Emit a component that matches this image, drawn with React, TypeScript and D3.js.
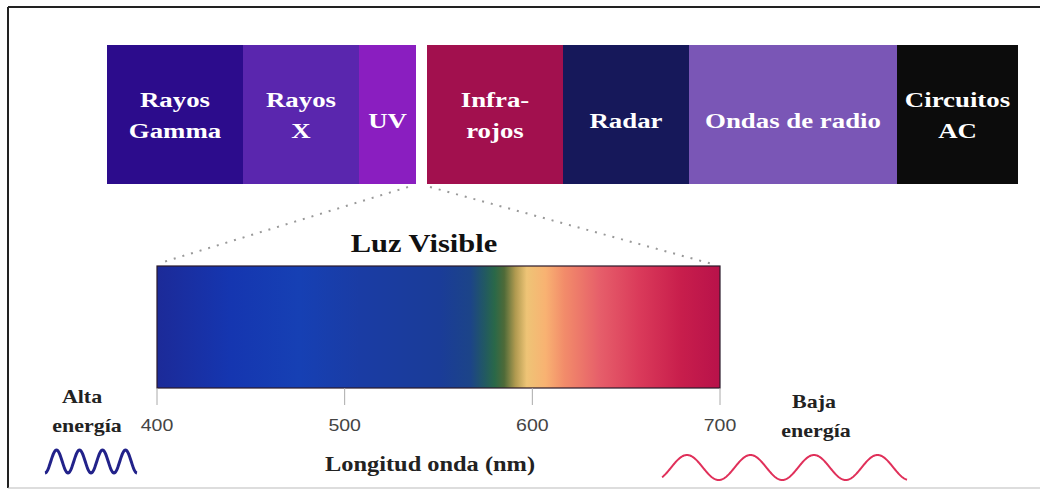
import React from "react";
import * as d3 from "d3";

// Electromagnetic bands (top bar), left to right
const bandLines: string[][] = [
  ["Rayos", "Gamma"],
  ["Rayos", "X"],
  ["UV"],
  [],
  ["Infra-", "rojos"],
  ["Radar"],
  ["Ondas de radio"],
  ["Circuitos", "AC"],
];
const bandSpans = [136, 116, 57, 11, 136, 126, 208, 121];
const bandColors = ["#2c0c8c", "#5a26ae", "#8a1ec0", "#ffffff", "#a2104e", "#16185a", "#7a56b6", "#0c0c0c"];

// Visible light axis
const tickValues = [400, 500, 600, 700];
const spectrumNm = [400, 439, 476, 508, 551, 567, 575, 580, 585, 591, 597, 607, 617, 636, 657, 679, 700];
const spectrumColors = [
  "#1c2a98", "#1536b0", "#1640b4", "#1a3ca4", "#1a3c98", "#1c4488", "#225a60", "#2a6848",
  "#4e6a38", "#b09a50", "#eec476", "#f8b272", "#f28c6a", "#e65e6a", "#da3a5a", "#c81e4c", "#b8124a",
];

const W = 1040;
const H = 492;
const SX = 1.22; // horizontal text stretch of the original
const serif = "'Liberation Serif', 'Times New Roman', serif";
const sans = "'Liberation Sans', Arial, sans-serif";

export default function App() {
  const total = d3.sum(bandSpans);
  const bx = d3.scaleLinear().domain([0, total]).range([107, 1018]);
  const cum = d3.cumsum(bandSpans);
  const starts = bandSpans.map((s, i) => cum[i] - s);

  const x = d3.scaleLinear().domain([400, 700]).range([157, 720]);
  const barTop = 266;
  const barBottom = 388;

  const blueWave = d3.line<number>()
    .x((t) => 45 + t)
    .y((t) => 461.5 + 11.5 * Math.cos((2 * Math.PI * t) / 23))(d3.range(0, 92.01, 0.5));
  const redWave = d3.line<number>()
    .x((t) => 662 + t)
    .y((t) => 467.5 - 12.5 * Math.cos((2 * Math.PI * (t - 25)) / 63.5))(d3.range(0, 245.01, 0.5));

  const label = (txt: string, cx: number, y: number, size: number, fill: string, family = serif, weight = "bold") => (
    <text
      key={txt + cx + y}
      transform={`translate(${cx},${y}) scale(${SX},1)`}
      textAnchor="middle"
      fontFamily={family}
      fontWeight={weight}
      fontSize={size}
      fill={fill}
    >
      {txt}
    </text>
  );

  return (
    <svg width={W} height={H} style={{ position: "absolute", left: 0, top: 0, background: "#fff" }}>
      <defs>
        <linearGradient id="spec" x1="0" x2="1" y1="0" y2="0">
          {spectrumNm.map((nm, i) => (
            <stop key={nm} offset={(nm - 400) / 300} stopColor={spectrumColors[i]} />
          ))}
        </linearGradient>
      </defs>

      {/* frame */}
      <line x1={8} y1={7} x2={W} y2={7} stroke="#222" strokeWidth={2} />
      <line x1={8} y1={7} x2={8} y2={488} stroke="#222" strokeWidth={2} />
      <line x1={8} y1={488} x2={W} y2={488} stroke="#bbb" strokeWidth={1} />

      {/* top band bar */}
      {bandSpans.map((s, i) => (
        <rect
          key={"b" + i}
          x={bx(starts[i])}
          y={45}
          width={bx(cum[i]) - bx(starts[i])}
          height={139}
          fill={bandColors[i]}
        />
      ))}
      {bandLines.map((lines, i) => {
        const cx = (bx(starts[i]) + bx(cum[i])) / 2;
        if (lines.length === 1) return label(lines[0], cx, 128, 22, "#fff");
        return lines.map((ln, j) => label(ln, cx, 107 + j * 31, 22, "#fff"));
      })}

      {/* zoom lines */}
      <line x1={408} y1={187} x2={160} y2={263} stroke="#999" strokeWidth={2} strokeDasharray="2 7" />
      <line x1={430} y1={187} x2={716} y2={265} stroke="#999" strokeWidth={2} strokeDasharray="2 7" />

      {label("Luz Visible", 424, 252, 25, "#111")}

      {/* spectrum */}
      <rect x={x(400)} y={barTop} width={x(700) - x(400)} height={barBottom - barTop} fill="url(#spec)" stroke="#2a1a2a" strokeWidth={1.2} />
      {tickValues.map((v) => (
        <g key={v}>
          <line x1={x(v)} x2={x(v)} y1={barBottom} y2={405} stroke="#aaa" strokeWidth={1} />
          {label(String(v), x(v), 431, 16, "#444", sans, "normal")}
        </g>
      ))}
      {label("Longitud onda (nm)", 430, 471, 20, "#222")}

      {/* energy notes */}
      {label("Alta", 82, 403, 18, "#222")}
      {label("energía", 87, 432, 18, "#222")}
      {label("Baja", 814, 408, 18, "#222")}
      {label("energía", 816, 437, 18, "#222")}

      <path d={blueWave || ""} fill="none" stroke="#22228a" strokeWidth={3} />
      <path d={redWave || ""} fill="none" stroke="#e0305a" strokeWidth={2} />
    </svg>
  );
}
